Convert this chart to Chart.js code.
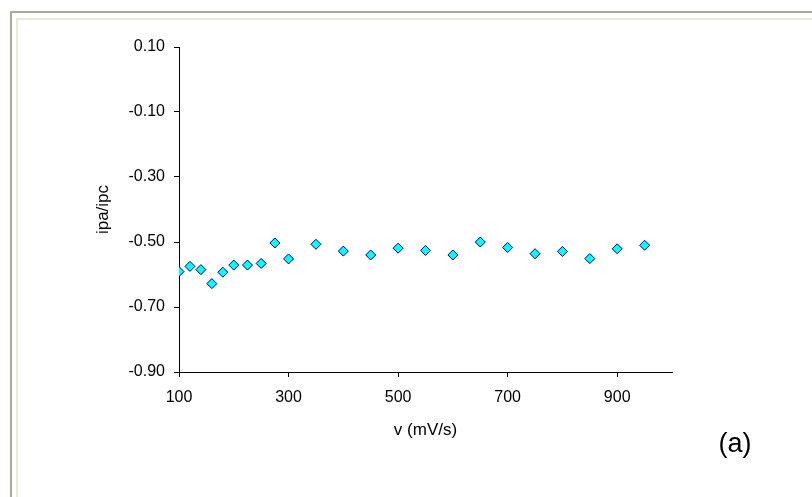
<!DOCTYPE html>
<html>
<head>
<meta charset="utf-8">
<script src="https://cdn.jsdelivr.net/npm/chart.js@4/dist/chart.umd.min.js"></script>
<style>
  body { margin: 0; background: #fff; }
  canvas { display: block; }
</style>
</head>
<body>
<canvas id="chart" width="812" height="497"></canvas>
<script>
// scan rate (mV/s) and peak current ratio
const scanRates = [100, 120, 140, 160, 180, 200, 225, 250, 275, 300, 350, 400, 450, 500, 550, 600, 650, 700, 750, 800, 850, 900, 950];
const peakRatios = [-0.591, -0.575, -0.585, -0.628, -0.593, -0.571, -0.571, -0.566, -0.503, -0.552, -0.507, -0.528, -0.540, -0.519, -0.526, -0.540, -0.500, -0.517, -0.536, -0.529, -0.551, -0.521, -0.510];
const xTicks = [100, 300, 500, 700, 900];
const yTicks = [-0.9, -0.7, -0.5, -0.3, -0.1, 0.1];
const panelLabel = '(a)';

const FONT = 'Liberation Sans, Arial, sans-serif';

// frame around the figure + panel letter
const framePlugin = {
  id: 'frame',
  beforeDraw(chart) {
    const ctx = chart.ctx;
    ctx.save();
    ctx.fillStyle = '#fff';
    ctx.fillRect(0, 0, chart.width, chart.height);
    ctx.fillStyle = '#a9a89a';
    ctx.fillRect(10, 11, chart.width - 10, 2);
    ctx.fillRect(10, 11, 2, chart.height - 11);
    ctx.fillStyle = '#ece9d8';
    ctx.fillRect(16, 18, chart.width - 16, 2);
    ctx.fillRect(16, 18, 2, chart.height - 18);
    ctx.restore();
  },
  afterDraw(chart) {
    const ctx = chart.ctx;
    ctx.save();
    ctx.fillStyle = '#000';
    ctx.font = '27px ' + FONT;
    ctx.textAlign = 'center';
    ctx.textBaseline = 'middle';
    ctx.fillText(panelLabel, 735, 445);
    ctx.restore();
  }
};

const points = scanRates.map((v, i) => ({ x: v, y: peakRatios[i] }));

new Chart(document.getElementById('chart'), {
  type: 'scatter',
  data: {
    datasets: [{
      data: points,
      pointStyle: 'rectRot',
      pointRadius: 5,
      pointBackgroundColor: '#00ffff',
      pointBorderColor: '#000080',
      pointBorderWidth: 1
    }]
  },
  options: {
    responsive: false,
    animation: false,
    layout: { padding: { left: 89, top: 47, right: 140, bottom: 52 } },
    plugins: { legend: { display: false }, tooltip: { enabled: false } },
    scales: {
      x: {
        type: 'linear',
        min: 100,
        max: 1000,
        afterBuildTicks: s => { s.ticks = xTicks.map(v => ({ value: v })); },
        afterFit: s => { s.height = 73; },
        border: { color: '#000', width: 1 },
        grid: { drawOnChartArea: false, color: '#000', tickLength: 5 },
        ticks: { color: '#000', padding: 11, maxRotation: 0, font: { family: FONT, size: 16 } },
        title: { display: true, text: 'v (mV/s)', color: '#000', font: { family: FONT, size: 17 } }
      },
      y: {
        type: 'linear',
        min: -0.9,
        max: 0.1,
        afterBuildTicks: s => { s.ticks = yTicks.map(v => ({ value: v })); },
        afterFit: s => { s.width = 90; },
        border: { color: '#000', width: 1 },
        grid: { drawOnChartArea: false, color: '#000', tickLength: 5 },
        ticks: {
          color: '#000',
          padding: 9,
          font: { family: FONT, size: 16 },
          callback: v => v.toFixed(2)
        },
        title: { display: true, text: 'ipa/ipc', color: '#000', font: { family: FONT, size: 17 } }
      }
    }
  },
  plugins: [framePlugin]
});
</script>
</body>
</html>
